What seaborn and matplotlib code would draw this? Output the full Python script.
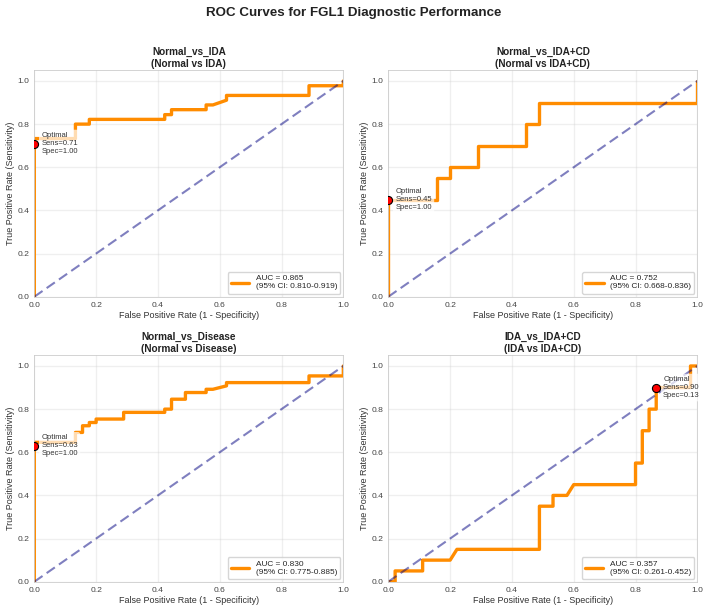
import matplotlib
matplotlib.use("Agg")
import matplotlib.pyplot as plt
import seaborn as sns
import numpy as np

# ---------------- data ----------------
titles = ["Normal_vs_IDA\n(Normal vs IDA)",
          "Normal_vs_IDA+CD\n(Normal vs IDA+CD)",
          "Normal_vs_Disease\n(Normal vs Disease)",
          "IDA_vs_IDA+CD\n(IDA vs IDA+CD)"]

fpr_ida = [0, 0, 0, 0.133, 0.133, 0.178, 0.178, 0.422, 0.422, 0.444, 0.444, 0.556, 0.556,
           0.578, 0.622, 0.622, 0.889, 0.889, 1.0, 1.0]
tpr_ida = [0, 0.711, 0.733, 0.733, 0.800, 0.800, 0.822, 0.822, 0.844, 0.844, 0.867, 0.867, 0.889,
           0.889, 0.911, 0.933, 0.933, 0.978, 0.978, 1.0]

fpr_idacd = [0, 0, 0.156, 0.156, 0.200, 0.200, 0.289, 0.289, 0.444, 0.444, 0.489, 0.489, 1.0, 1.0]
tpr_idacd = [0, 0.45, 0.45, 0.55, 0.55, 0.60, 0.60, 0.70, 0.70, 0.80, 0.80, 0.90, 0.90, 1.0]

fpr_dis = [0, 0, 0, 0.133, 0.133, 0.156, 0.156, 0.178, 0.178, 0.200, 0.200, 0.289, 0.289,
           0.422, 0.422, 0.444, 0.444, 0.489, 0.489, 0.556, 0.556, 0.578, 0.622, 0.622,
           0.889, 0.889, 1.0, 1.0]
tpr_dis = [0, 0.631, 0.646, 0.646, 0.692, 0.692, 0.723, 0.723, 0.738, 0.738, 0.754, 0.754, 0.785,
           0.785, 0.800, 0.800, 0.846, 0.846, 0.877, 0.877, 0.892, 0.892, 0.908, 0.923,
           0.923, 0.954, 0.954, 1.0]

fpr_cd = [0, 0.022, 0.022, 0.111, 0.111, 0.200, 0.222, 0.489, 0.489, 0.533, 0.533, 0.578, 0.600,
          0.800, 0.800, 0.822, 0.822, 0.844, 0.844, 0.867, 0.867, 0.978, 0.978, 1.0]
tpr_cd = [0, 0, 0.05, 0.05, 0.10, 0.10, 0.15, 0.15, 0.35, 0.35, 0.40, 0.40, 0.45,
          0.45, 0.55, 0.55, 0.70, 0.70, 0.80, 0.80, 0.90, 0.90, 1.0, 1.0]

fprs = [fpr_ida, fpr_idacd, fpr_dis, fpr_cd]
tprs = [tpr_ida, tpr_idacd, tpr_dis, tpr_cd]

aucs = [0.865, 0.752, 0.830, 0.357]
ci_low = [0.810, 0.668, 0.775, 0.261]
ci_high = [0.919, 0.836, 0.885, 0.452]

opt_fpr = [0.0, 0.0, 0.0, 0.867]
opt_sens = [0.71, 0.45, 0.63, 0.90]
opt_spec = [1.00, 1.00, 1.00, 0.13]

# ---------------- style ----------------
sns.set_theme(style="whitegrid")
plt.rcParams['font.family'] = ['Liberation Sans', 'DejaVu Sans']

fig, axes = plt.subplots(2, 2, figsize=(7.08, 6.12), dpi=100)
axes = axes.ravel()

positions = [
    [0.0485, 0.5152, 0.4364, 0.3701],
    [0.5485, 0.5152, 0.4364, 0.3701],
    [0.0485, 0.0495, 0.4364, 0.3701],
    [0.5485, 0.0495, 0.4364, 0.3701],
]

for i, ax in enumerate(axes):
    ax.set_position(positions[i])
    sns.lineplot(x=fprs[i], y=tprs[i], ax=ax, estimator=None, sort=False,
                 color='darkorange', lw=2.4,
                 label=f"AUC = {aucs[i]:.3f}\n(95% CI: {ci_low[i]:.3f}-{ci_high[i]:.3f})")
    ax.plot([0, 1], [0, 1], color='navy', lw=1.5, linestyle=(0, (4.8, 2.4)), alpha=0.5)
    ax.scatter([opt_fpr[i]], [opt_sens[i]], s=34, color='red', edgecolors='black',
               linewidths=0.8, zorder=5)
    ax.annotate(f"Optimal\nSens={opt_sens[i]:.2f}\nSpec={opt_spec[i]:.2f}",
                xy=(opt_fpr[i], opt_sens[i]), xytext=(5, 0), textcoords='offset points',
                fontsize=5.5, va='center', ha='left', color='#333333',
                bbox=dict(boxstyle='round,pad=0.3', facecolor='white', alpha=0.7,
                          edgecolor='none'))
    ax.set_xlim(0, 1)
    ax.set_ylim(0, 1.05)
    ax.set_xlabel("False Positive Rate (1 - Specificity)", fontsize=6.5, color='#333333', labelpad=2)
    ax.set_ylabel("True Positive Rate (Sensitivity)", fontsize=6.5, color='#333333', labelpad=2)
    ax.set_title(titles[i], fontsize=7.2, fontweight='bold', pad=2.5, color='#222222')
    ax.tick_params(labelsize=6.1, pad=3.5, length=0, colors='#444444')
    ax.grid(True, alpha=0.3)
    for s in ax.spines.values():
        s.set_color('#cccccc')
        s.set_linewidth(0.6)
    leg = ax.legend(loc='lower right', fontsize=5.95, frameon=True, handlelength=2.2,
                    borderaxespad=0.35)
    leg.get_frame().set_edgecolor('#cccccc')

fig.suptitle("ROC Curves for FGL1 Diagnostic Performance", fontsize=9.6, fontweight='bold',
             y=0.989, color='#222222')

fig.savefig("out.png", dpi=100)
